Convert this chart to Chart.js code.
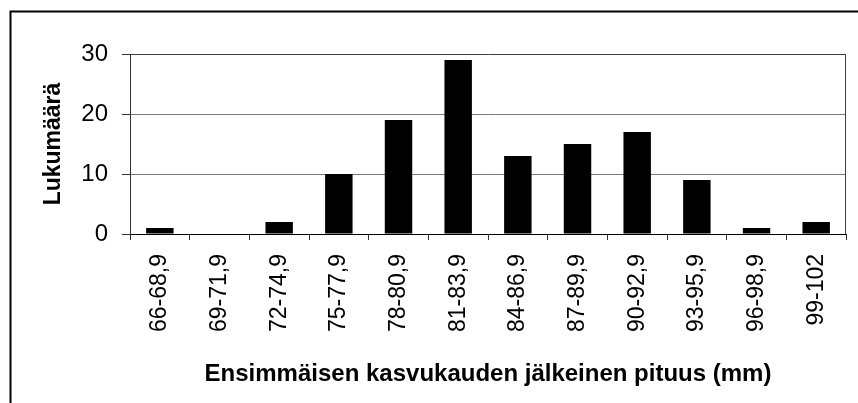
<!DOCTYPE html>
<html>
<head>
<meta charset="utf-8">
<script src="https://cdn.jsdelivr.net/npm/chart.js@4/dist/chart.umd.min.js"></script>
<style>
  html, body { margin: 0; padding: 0; background: #fff; }
  #wrap { width: 858px; height: 403px; position: relative; }
</style>
</head>
<body>
<div id="wrap"><canvas id="chart"></canvas></div>
<script>
// length classes (mm) and counts
const classes = ['66-68,9', '69-71,9', '72-74,9', '75-77,9', '78-80,9', '81-83,9',
                 '84-86,9', '87-89,9', '90-92,9', '93-95,9', '96-98,9', '99-102'];
const counts = [1, 0, 2, 10, 19, 29, 13, 15, 17, 9, 1, 2];
const yTicks = [0, 10, 20, 30];

const xTitle = 'Ensimmäisen kasvukauden jälkeinen pituus (mm)';
const yTitle = 'Lukumäärä';

const FONT = '"Liberation Sans", Arial, Helvetica, sans-serif';

// white page + outer frame that runs off the right and bottom edges
const framePlugin = {
    id: 'frame',
    beforeDraw(chart) {
        const ctx = chart.ctx;
        ctx.save();
        ctx.fillStyle = '#fff';
        ctx.fillRect(0, 0, chart.width, chart.height);
        ctx.strokeStyle = '#000';
        ctx.lineWidth = 2;
        ctx.beginPath();
        ctx.moveTo(10.5, chart.height);
        ctx.lineTo(10.5, 11.5);
        ctx.lineTo(chart.width, 11.5);
        ctx.stroke();
        ctx.restore();
    },
    afterDatasetsDraw(chart) {
        // right edge of plot area
        const { top, bottom, right } = chart.chartArea;
        const ctx = chart.ctx;
        ctx.save();
        ctx.strokeStyle = '#404040';
        ctx.lineWidth = 1;
        ctx.beginPath();
        ctx.moveTo(Math.round(right) - 0.5, top);
        ctx.lineTo(Math.round(right) - 0.5, bottom);
        ctx.stroke();
        ctx.restore();
    }
};

new Chart(document.getElementById('chart'), {
    type: 'bar',
    data: {
        labels: classes,
        datasets: [{
            label: yTitle,
            data: counts,
            backgroundColor: '#000',
            borderWidth: 0,
            barPercentage: 0.46,
            categoryPercentage: 1
        }]
    },
    options: {
        responsive: true,
        maintainAspectRatio: false,
        animation: false,
        layout: { padding: { top: 54, right: 5, left: 0, bottom: 0 } },
        plugins: {
            legend: { display: false },
            tooltip: { enabled: false }
        },
        scales: {
            x: {
                offset: true,
                grid: {
                    display: true,
                    offset: true,
                    drawOnChartArea: false,
                    tickLength: 6,
                    color: '#333'
                },
                border: { color: '#000', width: 1 },
                ticks: {
                    autoSkip: false,
                    minRotation: 90,
                    maxRotation: 90,
                    padding: 14,
                    color: '#000',
                    font: { family: FONT, size: 23 }
                },
                title: {
                    display: true,
                    text: xTitle,
                    color: '#000',
                    padding: { top: 0, bottom: 14 },
                    font: { family: FONT, size: 24, weight: 'bold' }
                },
                afterFit(scale) { scale.height = 169; }
            },
            y: {
                min: 0,
                max: 30,
                afterBuildTicks(scale) { scale.ticks = yTicks.map(v => ({ value: v })); },
                grid: {
                    color: ctx => ctx.tick && ctx.tick.value === 30 ? '#404040' : (ctx.tick && ctx.tick.value === 0 ? 'rgba(0,0,0,0)' : '#7a7a7a'),
                    tickColor: '#333',
                    tickLength: 8
                },
                border: { color: '#333', width: 1 },
                ticks: {
                    padding: 14,
                    color: '#000',
                    font: { family: FONT, size: 24 }
                },
                title: {
                    display: true,
                    text: yTitle,
                    color: '#000',
                    padding: { top: 40, bottom: 0 },
                    font: { family: FONT, size: 23, weight: 'bold' }
                },
                afterFit(scale) { scale.width = 130; }
            }
        }
    },
    plugins: [framePlugin]
});
</script>
</body>
</html>
